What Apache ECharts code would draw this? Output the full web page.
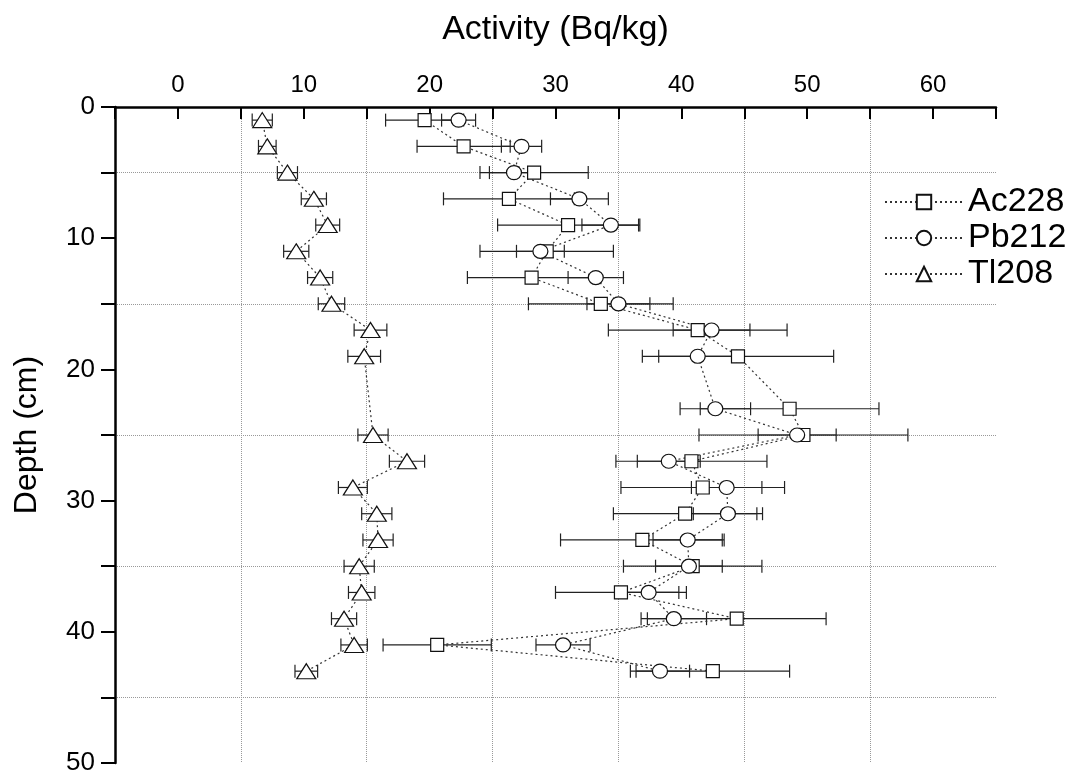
<!DOCTYPE html>
<html lang="en">
<head>
  <meta charset="UTF-8">
  <title>Activity vs depth</title>
  <script src="https://cdn.jsdelivr.net/npm/echarts@6/dist/echarts.min.js"></script>
  <style>
    html, body { margin: 0; padding: 0; background: #fff; }
    #main { width: 1069px; height: 771px; }
  </style>
</head>
<body>
  <div id="main"></div>
  <script type="text/javascript">
  // sample depths (cm)
  var depthAcPb = [1, 3, 5, 7, 9, 11, 13, 15, 17, 19, 23, 25, 27, 29, 31, 33, 35, 37, 39, 41, 43];
  var depthTl = [1, 3, 5, 7, 9, 11, 13, 15, 17, 19, 25, 27, 29, 31, 33, 35, 37, 39, 41, 43];

  // activities (Bq/kg) and their errors
  var ac228 = [19.6, 22.7, 28.3, 26.3, 31.0, 29.3, 28.1, 33.6, 41.3, 44.5, 48.6, 49.7, 40.8, 41.7, 40.3, 36.9, 40.9, 35.2, 44.4, 20.6, 42.5];
  var ac228Err = [3.1, 3.7, 4.3, 5.2, 5.6, 5.3, 5.1, 5.75, 7.1, 7.6, 7.1, 8.3, 6.0, 6.5, 5.7, 6.5, 5.5, 5.2, 7.1, 4.3, 6.1];
  var pb212 = [22.3, 27.3, 26.7, 31.9, 34.4, 28.8, 33.2, 35.0, 42.4, 41.3, 42.7, 49.2, 39.0, 43.6, 43.7, 40.5, 40.6, 37.4, 39.4, 30.6, 38.3];
  var pb212Err = [1.35, 1.6, 1.95, 2.3, 2.3, 1.9, 2.2, 2.5, 3.05, 3.1, 2.8, 3.1, 2.5, 2.8, 2.75, 2.75, 2.65, 2.4, 2.6, 2.15, 2.35];
  var tl208 = [6.7, 7.1, 8.7, 10.8, 11.9, 9.4, 11.3, 12.2, 15.3, 14.8, 15.5, 18.2, 13.9, 15.8, 15.9, 14.4, 14.6, 13.2, 14.0, 10.2];
  var tl208Err = [0.8, 0.7, 0.8, 1.0, 0.95, 1.0, 1.0, 1.05, 1.3, 1.3, 1.2, 1.4, 1.15, 1.2, 1.2, 1.2, 1.05, 1.0, 1.05, 0.9];

  var font = 'Liberation Sans, Arial, sans-serif';
  var myChart = echarts.init(document.getElementById('main'));

  function pointSeries(name, vals, depths, symbol, size) {
    return {
      name: name,
      type: 'line',
      z: 3,
      symbol: symbol,
      symbolSize: size,
      showAllSymbol: true,
      itemStyle: { color: '#fff', borderColor: '#111', borderWidth: 1.2 },
      lineStyle: { color: '#333', width: 1.2, type: [2, 3] },
      data: depths.map(function (d, i) { return [vals[i], d]; })
    };
  }

  function errorSeries(vals, errs, depths) {
    return {
      type: 'custom',
      silent: true,
      z: 1,
      encode: { x: [0, 1], y: 2 },
      data: depths.map(function (d, i) { return [vals[i] - errs[i], vals[i] + errs[i], d]; }),
      renderItem: function (params, api) {
        var a = api.coord([api.value(0), api.value(2)]);
        var b = api.coord([api.value(1), api.value(2)]);
        var h = 6.5;
        var st = { stroke: '#222', lineWidth: 1.2 };
        return {
          type: 'group',
          children: [
            { type: 'line', shape: { x1: a[0], y1: a[1], x2: b[0], y2: b[1] }, style: st },
            { type: 'line', shape: { x1: a[0], y1: a[1] - h, x2: a[0], y2: a[1] + h }, style: st },
            { type: 'line', shape: { x1: b[0], y1: b[1] - h, x2: b[0], y2: b[1] + h }, style: st }
          ]
        };
      }
    };
  }

  var option = {
    animation: false,
    backgroundColor: '#fff',
    textStyle: { fontFamily: font },
    grid: { left: 115, right: 73, top: 107, bottom: 8, outerBoundsMode: 'none', containLabel: false },
    legend: {
      orient: 'vertical',
      left: 879,
      top: 180,
      itemWidth: 78,
      itemHeight: 18,
      itemGap: 2,
      textStyle: { fontSize: 34, color: '#000', fontFamily: font },
      data: ['Ac228', 'Pb212', 'Tl208']
    },
    xAxis: [{
      type: 'value',
      position: 'top',
      min: -5,
      max: 65,
      interval: 5,
      name: 'Activity (Bq/kg)',
      nameLocation: 'middle',
      nameGap: 60,
      nameTextStyle: { fontSize: 34, color: '#000', fontFamily: font },
      axisLine: { onZero: false, lineStyle: { color: '#000', width: 2.5 } },
      axisTick: { inside: true, length: 12, lineStyle: { color: '#000', width: 2 } },
      axisLabel: {
        fontSize: 24, color: '#000', margin: 10, fontFamily: font,
        formatter: function (v) { return v % 10 === 0 ? v : ''; }
      },
      splitLine: { show: false }
    }, {
      // only used for the dotted vertical grid at 5, 15, 25 ...
      type: 'value',
      position: 'bottom',
      min: -5,
      max: 65,
      interval: 10,
      axisLine: { show: false, onZero: false },
      axisTick: { show: false },
      axisLabel: { show: false },
      splitLine: { show: true, showMinLine: false, showMaxLine: false, lineStyle: { color: '#999', type: 'dotted', width: 1 } }
    }],
    yAxis: [{
      type: 'value',
      inverse: true,
      min: 0,
      max: 50,
      interval: 5,
      name: 'Depth (cm)',
      nameLocation: 'middle',
      nameGap: 72,
      nameRotate: 90,
      nameTextStyle: { fontSize: 32, color: '#000', fontFamily: font },
      axisLine: { onZero: false, lineStyle: { color: '#000', width: 2.5 } },
      axisTick: { inside: false, length: 14, lineStyle: { color: '#000', width: 2 } },
      axisLabel: {
        fontSize: 26, color: '#000', margin: 20, fontFamily: font,
        formatter: function (v) { return v % 10 === 0 ? v : ''; }
      },
      splitLine: { show: false }
    }, {
      // dotted horizontal grid at 5, 15, 25 ...
      type: 'value',
      inverse: true,
      min: 0,
      max: 50,
      interval: 10,
      position: 'right',
      axisLine: { show: false, onZero: false },
      axisTick: { show: false },
      axisLabel: { show: false },
      splitLine: { show: false },
      minorTick: { show: false, splitNumber: 2 },
      minorSplitLine: { show: true, lineStyle: { color: '#999', type: 'dotted', width: 1 } }
    }],
    series: [
      errorSeries(ac228, ac228Err, depthAcPb),
      errorSeries(pb212, pb212Err, depthAcPb),
      errorSeries(tl208, tl208Err, depthTl),
      pointSeries('Ac228', ac228, depthAcPb, 'rect', [13, 13]),
      pointSeries('Pb212', pb212, depthAcPb, 'circle', [15, 14]),
      pointSeries('Tl208', tl208, depthTl, 'triangle', [19, 15])
    ]
  };

  myChart.setOption(option);
  </script>
</body>
</html>
